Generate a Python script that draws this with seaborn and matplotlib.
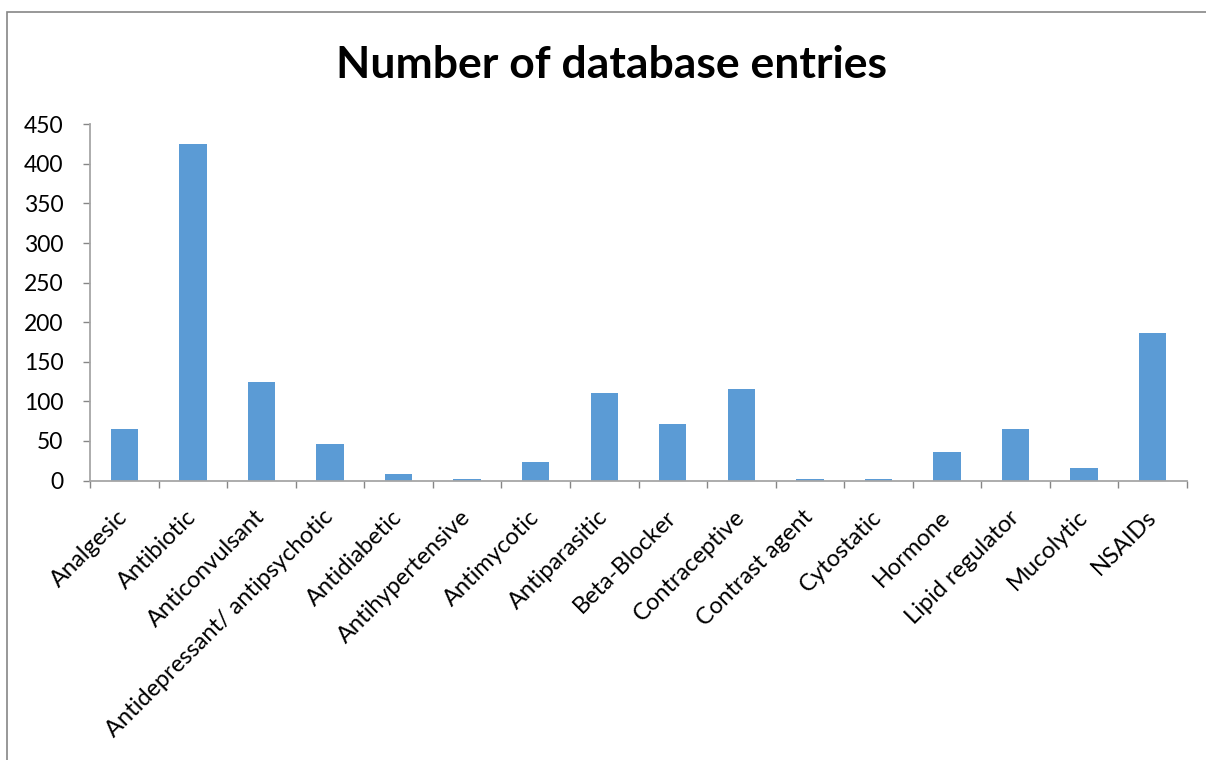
import matplotlib
matplotlib.use("Agg")
import matplotlib.pyplot as plt
from matplotlib.patches import Rectangle
from matplotlib.transforms import ScaledTranslation
import seaborn as sns
import pandas as pd

categories = [
    "Analgesic", "Antibiotic", "Anticonvulsant", "Antidepressant/ antipsychotic",
    "Antidiabetic", "Antihypertensive", "Antimycotic", "Antiparasitic",
    "Beta-Blocker", "Contraceptive", "Contrast agent", "Cytostatic",
    "Hormone", "Lipid regulator", "Mucolytic", "NSAIDs",
]
entries = [65, 425, 124, 46, 8, 2, 23, 110, 72, 115, 2, 2, 36, 65, 16, 186]
y_ticks = [0, 50, 100, 150, 200, 250, 300, 350, 400, 450]

sns.set_theme(style="white")
plt.rcParams["font.family"] = ["Lato", "DejaVu Sans"]

df = pd.DataFrame({"category": categories, "entries": entries})

fig = plt.figure(figsize=(12.06, 7.6), dpi=100)
ax = fig.add_axes([90 / 1206, 1 - 480.5 / 760, (1187 - 90) / 1206, (480.5 - 124.3) / 760])

sns.barplot(data=df, x="category", y="entries", color="#5B9BD5", width=0.4,
            saturation=1, ax=ax, edgecolor="none")

ax.set_xlim(-0.5, len(categories) - 0.5)
ax.set_ylim(0, 450)
ax.set_yticks(y_ticks)
ax.set_yticklabels([str(v) for v in y_ticks], fontsize=16.5, color="#000000")
ax.set_xlabel("")
ax.set_ylabel("")

# category labels at bar centres, tick marks at category boundaries
ax.set_xticks(range(len(categories)))
ax.set_xticklabels(categories, rotation=45, ha="right", va="center",
                   rotation_mode="anchor", fontsize=17, color="#000000")
shift = ScaledTranslation(5 / 100, 0, fig.dpi_scale_trans)
for lbl in ax.get_xticklabels():
    lbl.set_transform(lbl.get_transform() + shift)
ax.set_xticks([i - 0.5 for i in range(len(categories) + 1)], minor=True)
ax.tick_params(axis="x", which="major", length=0, pad=24)
ax.tick_params(axis="x", which="minor", length=5, width=1, color="#868686",
               direction="out", bottom=True)
ax.tick_params(axis="y", which="major", length=5, width=1, color="#868686",
               direction="out", left=True, pad=14)

for side in ["top", "right"]:
    ax.spines[side].set_visible(False)
for side in ["left", "bottom"]:
    ax.spines[side].set_color("#A6A6A6")
    ax.spines[side].set_linewidth(1.3)
ax.grid(False)

fig.text(611 / 1206, 1 - 65 / 760, "Number of database entries", ha="center",
         va="center", fontsize=32, fontweight="bold", color="#000000")

# outer chart frame
fig.patches.append(Rectangle((6.5 / 1206, -0.1), 1.2, 1 - 12 / 760 + 0.1,
                             transform=fig.transFigure, fill=False,
                             edgecolor="#868686", linewidth=1.2))

fig.savefig("out.png", dpi=100)
